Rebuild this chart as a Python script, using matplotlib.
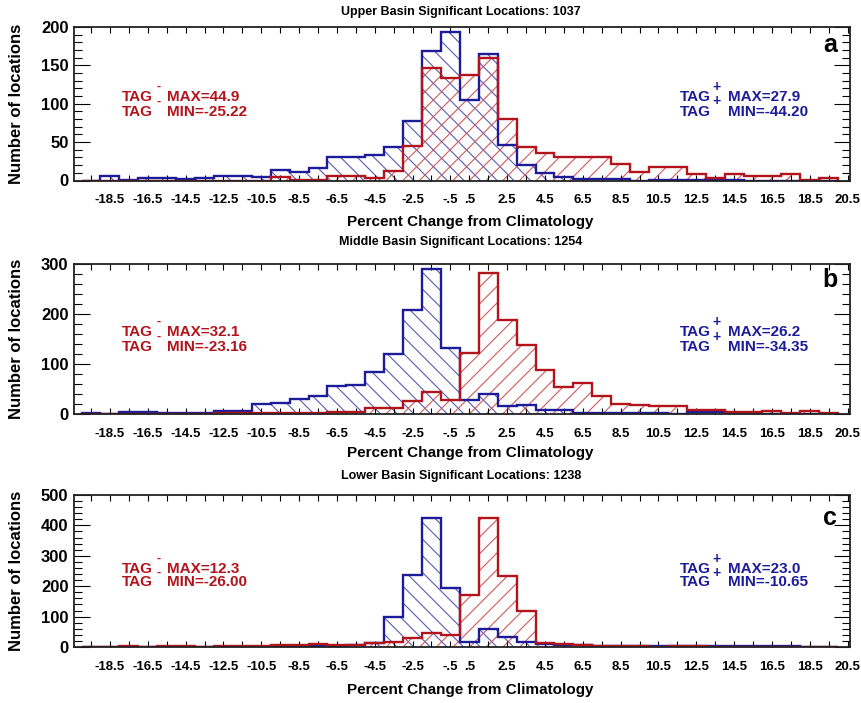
import numpy as np
import matplotlib
matplotlib.use("Agg")
import matplotlib.pyplot as plt

plt.rcParams['font.family'] = ['Liberation Sans', 'DejaVu Sans']
plt.rcParams['font.weight'] = 'bold'
plt.rcParams['axes.unicode_minus'] = False
plt.rcParams['hatch.linewidth'] = 0.8

# ---- data: counts per 1% bin, bins from -20 to 20 ----
bin_edges = np.arange(-20, 21)

upper_neg = [0, 6, 1, 3, 3, 2, 3, 6, 6, 5, 14, 11, 16, 31, 31, 33, 43, 77, 169, 194,
             105, 165, 46, 20, 10, 5, 2, 2, 2, 0, 1, 1, 1, 1, 1, 0, 0, 0, 0, 0]
upper_pos = [0, 0, 0, 0, 0, 0, 0, 0, 0, 0, 5, 1, 1, 6, 6, 3, 12, 45, 146, 134,
             138, 159, 80, 44, 36, 30, 30, 30, 22, 11, 18, 18, 8, 3, 9, 6, 6, 8, 1, 3]

middle_neg = [1, 0, 3, 3, 2, 2, 2, 6, 6, 20, 22, 30, 35, 55, 58, 84, 120, 207, 290, 132,
              27, 40, 15, 18, 8, 7, 1, 1, 1, 1, 1, 0, 3, 3, 0, 0, 0, 0, 0, 0]
middle_pos = [0, 0, 0, 0, 0, 0, 0, 1, 1, 1, 2, 2, 2, 3, 3, 12, 12, 25, 44, 27,
              122, 282, 188, 137, 87, 53, 62, 35, 20, 18, 16, 15, 8, 8, 3, 4, 5, 2, 5, 2]

lower_neg = [0, 0, 0, 0, 0, 0, 0, 0, 0, 1, 1, 1, 2, 2, 5, 12, 99, 236, 425, 195,
             17, 58, 34, 17, 10, 8, 5, 3, 2, 2, 2, 2, 2, 2, 2, 2, 2, 2, 0, 0]
lower_pos = [0, 0, 2, 0, 2, 2, 0, 2, 2, 4, 5, 5, 10, 6, 8, 14, 15, 28, 47, 39,
             170, 425, 234, 118, 14, 10, 5, 2, 2, 2, 1, 2, 2, 0, 0, 0, 0, 0, 0, 0]

titles = ["Upper Basin Significant Locations: 1037",
          "Middle Basin Significant Locations: 1254",
          "Lower Basin Significant Locations: 1238"]
panel_letters = ["a", "b", "c"]
neg_stats = [("MAX=44.9", "MIN=-25.22"), ("MAX=32.1", "MIN=-23.16"), ("MAX=12.3", "MIN=-26.00")]
pos_stats = [("MAX=27.9", "MIN=-44.20"), ("MAX=26.2", "MIN=-34.35"), ("MAX=23.0", "MIN=-10.65")]

xtick_values = [-18.5, -16.5, -14.5, -12.5, -10.5, -8.5, -6.5, -4.5, -2.5, -0.5,
                0.5, 2.5, 4.5, 6.5, 8.5, 10.5, 12.5, 14.5, 16.5, 18.5, 20.5]
xtick_labels = ["-18.5", "-16.5", "-14.5", "-12.5", "-10.5", "-8.5", "-6.5", "-4.5",
                "-2.5", "-.5", ".5", "2.5", "4.5", "6.5", "8.5", "10.5", "12.5",
                "14.5", "16.5", "18.5", "20.5"]
y_limits = [200, 300, 500]
y_major = [50, 100, 100]
y_minor = [10, 20, 20]

# ---- styling ----
RED = "#b3141c"
BLUE = "#1c1c9a"
RED_HATCH = "#d25a5a"
BLUE_HATCH = "#5a5ab4"

W, H = 861, 703
fig = plt.figure(figsize=(W / 100, H / 100), dpi=100)


def fx(x):
    return x / W


def fy(y):
    return 1 - y / H


AX_L, AX_R = 74, 849.5
panel_px = [(27, 180.5), (263.5, 414), (495, 647)]
title_y = [12, 242, 476]
xlabel_y = [222, 453, 690]
tag_rows = [(97, 111.5), (332, 347), (569, 582.5)]
letter_base = [51.7, 287.3, 525]

neg_series = [upper_neg, middle_neg, lower_neg]
pos_series = [upper_pos, middle_pos, lower_pos]

minor_ticks = [v for v in np.arange(-19.5, 20.6, 1.0) if v not in xtick_values]

for i in range(3):
    top, bot = panel_px[i]
    ax = fig.add_axes([fx(AX_L), fy(bot), (AX_R - AX_L) / W, (bot - top) / H])

    for vals, col, hcol, hatch in ((neg_series[i], BLUE, BLUE_HATCH, '\\\\'),
                                  (pos_series[i], RED, RED_HATCH, '//')):
        ax.stairs(vals, bin_edges, fill=True, hatch=hatch, facecolor='none',
                  edgecolor=hcol, linewidth=0, zorder=1)
    for vals, col in ((neg_series[i], BLUE), (pos_series[i], RED)):
        ax.stairs(vals, bin_edges, color=col, linewidth=1.7, zorder=2)

    ax.set_xlim(-20.4, 20.6)
    ax.set_ylim(0, y_limits[i])

    ax.set_xticks(xtick_values)
    ax.set_xticklabels(xtick_labels, fontsize=9.5, fontweight='bold')
    ax.set_xticks(minor_ticks, minor=True)
    ax.set_yticks(np.arange(0, y_limits[i] + 1, y_major[i]))
    ax.set_yticks(np.arange(0, y_limits[i] + 1, y_minor[i]), minor=True)
    for lab in ax.get_yticklabels():
        lab.set_fontsize(12)
        lab.set_fontweight('bold')

    ax.tick_params(axis='x', which='both', direction='in', top=True, bottom=True,
                   length=4, width=0.8, pad=10)
    ax.tick_params(axis='y', which='major', direction='in', left=True, right=True,
                   length=11.5, width=0.8, pad=4)
    ax.tick_params(axis='y', which='minor', direction='in', left=True, right=True,
                   length=5.5, width=0.8)
    for sp in ax.spines.values():
        sp.set_linewidth(1.3)
        sp.set_color('#222222')
        sp.set_zorder(3)

    # titles and axis captions
    fig.text(fx(461), fy(title_y[i]), titles[i], ha='center', va='center',
             fontsize=9, fontweight='bold')
    fig.text(fx(470), fy(xlabel_y[i]), "Percent Change from Climatology",
             ha='center', va='center', fontsize=11, fontweight='bold')
    fig.text(fx(17), fy((top + bot) / 2), "Number of locations", rotation=90,
             ha='center', va='center', fontsize=12, fontweight='bold')
    fig.text(fx(830), fy(letter_base[i]), panel_letters[i], ha='center',
             va='baseline', fontsize=18, fontweight='bold')

    # TAG statistics blocks
    r1, r2 = tag_rows[i]
    for row_y, s_neg, s_pos in ((r1, neg_stats[i][0], pos_stats[i][0]),
                                (r2, neg_stats[i][1], pos_stats[i][1])):
        fig.text(fx(122), fy(row_y), "TAG", ha='left', va='center',
                 fontsize=11, fontweight='bold', color=RED)
        fig.text(fx(159), fy(row_y - 10), "-", ha='center', va='center',
                 fontsize=9, fontweight='bold', color=RED)
        fig.text(fx(167), fy(row_y), s_neg, ha='left', va='center',
                 fontsize=11, fontweight='bold', color=RED)
        fig.text(fx(680), fy(row_y), "TAG", ha='left', va='center',
                 fontsize=11, fontweight='bold', color=BLUE)
        fig.text(fx(716.7), fy(row_y - 10), "+", ha='center', va='center',
                 fontsize=10, fontweight='bold', color=BLUE)
        fig.text(fx(728), fy(row_y), s_pos, ha='left', va='center',
                 fontsize=11, fontweight='bold', color=BLUE)

fig.savefig("out.png", dpi=100)
